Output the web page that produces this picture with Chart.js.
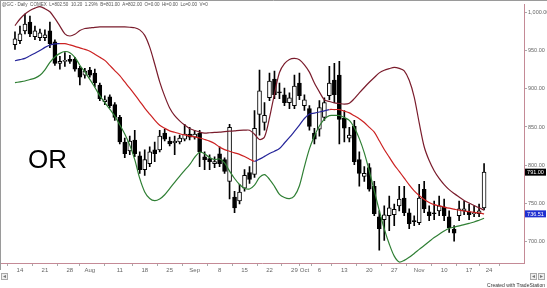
<!DOCTYPE html>
<html>
<head>
<meta charset="utf-8">
<script src="https://cdn.jsdelivr.net/npm/chart.js@4.4.1/dist/chart.umd.min.js"></script>
<style>
  html, body { margin: 0; padding: 0; background: #fff; }
</style>
</head>
<body>
<canvas id="goldChart" width="547" height="288"></canvas>
<script>
// Daily candles, one per trading day (index 0 = first bar on the left)
var opens = [957.6,962.7,975.6,987.2,967.9,966.6,966.6,975.6,961.4,933.2,
  935.8,938.3,938.3,926.8,917.8,924.2,920.3,904.9,883.1,889.5,
  879.2,862.5,830.4,818.8,833,812.4,794.4,802.1,820.1,820.1,
  842,831.7,829.1,830.4,834.2,840.7,836.8,842,811.1,808.6,
  802.1,815,807.3,779,758.4,753.3,770,790.5,788,866.4,
  856.1,888.2,912.6,895.9,892.1,881.8,877.9,907.5,877.9,874.1,
  842,847.1,862.5,890.8,911.3,917.8,861.2,835.5,850.9,807.3,
  785.4,797,772.6,732.7,728.9,734,735.3,746.9,757.1,737.9,
  727.6,725,768.7,739.1,737.9,740.4,745.6,732.7,716.6,734,
  740.4,739.1,736.6,736.6,744.3];
var highs = [974.3,982,997.4,994.9,982,978,976.9,987.2,964,942.2,
  947.3,943.5,940.9,929.3,926.8,928,925.5,907.5,890.8,892.1,
  881.8,865.1,835.5,838.1,845.8,817.5,820.1,824,830.4,845.8,
  847,836.8,838.1,839.4,853.5,849.7,845.8,845.8,817.5,813.7,
  811.1,824,809.8,853.5,766.1,775.1,794.4,798.3,871.5,924.2,
  881.8,920.3,922.9,907.5,901,894.6,917.8,920.3,892.1,877.9,
  848.4,884.4,888.2,929.3,933.2,935.8,871.5,849.7,858.7,817.5,
  798.3,802.1,779,740.4,746.9,759.7,749.4,772.6,772.6,743,
  734,775.1,779,746.9,753.3,759.7,755.9,740.4,721.2,753.3,
  753.3,749.4,746.9,749.4,802.1];
var lows = [951.2,958.9,971.7,967.9,964,962.7,962.7,953.7,930.6,925.5,
  929.3,933.2,922.9,904.9,913.9,915.2,902.3,884.4,879.2,875.4,
  858.7,827.8,809.8,813.7,811.1,789.3,786.7,798.3,804.7,817.5,
  831.7,825.3,813.7,827.8,831.7,833,834.2,798.3,794.4,794.4,
  797,798.3,789.3,755.9,737.9,749.4,766.1,776.4,784.1,839.4,
  845.8,884.4,886.9,886.9,877.9,874.1,874.1,885.6,871.5,845.8,
  827.8,838.1,858.7,885.6,881.8,827.8,830.4,830.4,800.8,772.6,
  779,766.1,734,689,701.9,714.7,721.2,740.4,734,717.3,
  721.2,722.4,737.9,727.6,728.9,734,727.6,712.2,700.7,727.6,
  735.3,728.9,732.7,732.7,741.7];
var closes = [965.3,971.7,984.6,971.7,975.6,973,970.4,958.9,933.2,935.8,
  937,935.8,925.5,915.2,922.9,917.8,907.5,886.9,885.6,877.9,
  862.5,830.4,815,831.7,815,794.4,807.3,817.5,815,838.1,
  834.2,827.8,831.7,835.5,840.7,836.8,840.7,817.5,807.3,804.7,
  804.7,802.1,791.8,849.7,744.3,764.8,786.7,781.5,848.4,897.2,
  865.1,910.1,892.1,894.6,881.8,888.2,903.6,890.8,885.6,850.9,
  834.2,875.4,881.8,907.5,892.1,860,848.4,839.4,804.7,789.3,
  789.3,768.7,736.6,717.3,735.3,744.3,742.4,755.9,737.9,723.7,
  726.3,757.1,743,734,736.6,746.9,734,718.6,711.3,743,
  743,735.3,737.9,740.4,791];

// Band lines
var upperBand = [982.5,991.1,997.7,1002.3,1005.3,1007.2,1004.6,1000.5,991.8,981.8,
  971.7,968.9,971.1,976,978.7,979.4,980.2,980.7,980.7,980.7,
  980.7,980.7,980.7,980.3,979.7,976.9,969.7,954.3,932.3,909,
  890.3,874.8,864.7,858,852.6,848,845.4,843.4,842.1,842.5,
  842.9,843.2,843.9,844.5,845,845.7,845.8,845.8,840.5,833.7,
  837,861.9,893.4,921.2,932.7,938.2,939.6,937.9,931.2,921.7,
  907.5,895.9,885.4,883.4,881.6,880.7,879.8,881,887,894.5,
  901.6,908.4,914.7,920.7,924.2,926.2,927.8,926.5,923.4,911,
  889.1,855.4,824.2,806.1,792.9,782.8,774.7,768.1,763,758.4,
  753.9,750.7,747.5,744.3,741.5];
var midLine = [936.5,938.1,939.6,943.1,946.4,950,954,957.1,958.7,958.9,
  958.9,957.2,955.4,953.4,951.4,949,945,941,937,930.4,
  923.7,917,908.8,900.7,892.3,883.6,874.8,866.8,859,852.2,
  848.3,845,843.1,841.2,839.6,838.3,837,835.6,833.7,831.5,
  828.4,823.7,820.4,818.3,816.2,814.3,811.4,807.9,805.2,808,
  811.6,815.4,818.4,821.9,829.1,836.3,844.3,852.5,861.1,866.9,
  868.2,869.6,871.1,872.8,872.8,872.7,870.7,868.4,864.6,860.7,
  855.8,849.5,843.4,832,820.6,810.6,800.6,792,783.2,774.4,
  766.6,760.5,755.3,751.4,748.6,747,745.4,743.9,742.6,741.3,
  740.2,739.4,738.5,737.7,736.51];
var lowerBand = [908,909,910.1,912,913.9,917.5,924.7,934.5,941.5,946.2,
  948.6,947.1,941.1,930.7,922,912.2,902,890.9,881.8,873.3,
  864.2,852.9,840.7,826.3,807.3,782.8,765.2,756.5,753.7,755.9,
  761.5,769.5,777.7,785.6,793.4,800.7,810.2,817,815.1,810.1,
  807.5,808.2,803,792.3,782.7,774.9,769.9,769,774,784.1,
  787.7,781.7,772.5,761.9,757.8,756.4,760,773.3,798.3,821.4,
  838.2,851.3,860.3,864.9,865.1,865,862.3,858.7,848.9,834.8,
  816.2,792.3,766.6,740.8,716.9,697.1,681.3,673.6,675.7,679.8,
  684.8,690.1,695.2,700.4,705.5,709.8,714.2,717.7,719.2,720.9,
  722.4,724,725.8,728.2,730.7];

// Axis labels
var tickPos = [1,6,11,15,21,26,31,36,41,46,51,56,58,61,66,71,76,81,86,91,95];
var tickText = ['14','21','28','Aug','11','18','25','Sep','8','15','22','29','Oct','6','13','20','27','Nov','10','17','24'];
var yTicks = [700, 750, 800, 850, 900, 950, 1000];

var titleText = '@GC - Daily  COMEX  L=802.50  10.20  1.29%  B=801.00  A=802.00  O=0.00  Hi=0.00  Lo=0.00  V=0';

var FONT = '"Liberation Sans", Arial, sans-serif';

function points(arr) {
  return arr.map(function(v, i) { return { x: i, y: v }; });
}

var wicks = highs.map(function(h, i) { return { x: i, y: [lows[i], h] }; });
var bodies = opens.map(function(o, i) { return { x: i, y: [o, closes[i]] }; });
var bodyColors = opens.map(function(o, i) { return closes[i] > o ? '#ffffff' : '#000000'; });

// texts and boxes drawn on top of the chart
var overlay = {
  id: 'overlay',
  afterDraw: function(chart) {
    var c = chart.ctx;
    var ys = chart.scales.y;
    c.save();

    // window frame
    c.strokeStyle = '#9a9a9a';
    c.lineWidth = 1;
    c.beginPath();
    c.moveTo(0, 0.5); c.lineTo(547, 0.5);
    c.moveTo(0.5, 0); c.lineTo(0.5, 270);
    c.stroke();

    // header line
    c.font = '10px ' + FONT;
    var w = c.measureText(titleText).width;
    c.font = (10 * 206 / w).toFixed(2) + 'px ' + FONT;
    c.fillStyle = '#555';
    c.textBaseline = 'middle';
    c.textAlign = 'left';
    c.fillText(titleText, 2, 5);

    // big label
    c.font = '26px ' + FONT;
    c.fillStyle = '#000';
    c.textBaseline = 'alphabetic';
    c.fillText('OR', 28, 168);

    // last value boxes
    c.font = '5.5px ' + FONT;
    c.textAlign = 'center';
    c.textBaseline = 'middle';
    var lastClose = closes[closes.length - 1];
    var py = ys.getPixelForValue(lastClose);
    c.fillStyle = '#000';
    c.fillRect(525, py - 3.5, 21, 7);
    c.fillStyle = '#fff';
    c.fillText(lastClose.toFixed(2), 535.5, py + 0.3);

    var lastMid = midLine[midLine.length - 1];
    py = ys.getPixelForValue(lastMid);
    c.fillStyle = '#1f2fd0';
    c.fillRect(525, py - 3.5, 21, 7);
    c.fillStyle = '#fff';
    c.fillText(lastMid.toFixed(2), 535.5, py + 0.3);

    // scroll buttons
    c.strokeStyle = '#aaa';
    c.fillStyle = '#eee';
    [[1, 273], [530, 273], [538, 273]].forEach(function(b) {
      c.fillRect(b[0], b[1], 7, 7);
      c.strokeRect(b[0] + 0.5, b[1] + 0.5, 6, 6);
    });
    c.fillStyle = '#777';
    c.font = '5px ' + FONT;
    c.fillText('\u25C4', 4.5, 276.5);
    c.fillText('\u25C4', 533.5, 276.5);
    c.fillText('\u25BA', 541.5, 276.5);

    c.font = '5px ' + FONT;
    c.fillStyle = '#333';
    c.textAlign = 'right';
    c.textBaseline = 'alphabetic';
    c.fillText('Created with TradeStation', 545, 287);
    c.restore();
  }
};

var ctx = document.getElementById('goldChart').getContext('2d');
new Chart(ctx, {
  type: 'bar',
  data: {
    datasets: [
      {
        type: 'line', label: 'Upper', data: points(upperBand), order: 1,
        borderColor: '#7a1c2c', borderWidth: 1.2, pointRadius: 0, tension: 0.3
      },
      {
        type: 'line', label: 'Lower', data: points(lowerBand), order: 1,
        borderColor: '#2f7f34', borderWidth: 1.2, pointRadius: 0, tension: 0.3
      },
      {
        type: 'line', label: 'Average', data: points(midLine), order: 1,
        borderColor: '#cc2222', borderWidth: 1.2, pointRadius: 0, tension: 0.3,
        segment: {
          borderColor: function(s) { return s.p1.parsed.y > s.p0.parsed.y ? '#26269a' : '#cc2222'; }
        }
      },
      {
        label: 'Bodies', data: bodies, order: 2, grouped: false,
        backgroundColor: bodyColors, borderColor: '#000', borderWidth: 1,
        borderSkipped: false, barThickness: 4, minBarLength: 1
      },
      {
        label: 'Wicks', data: wicks, order: 3, grouped: false,
        backgroundColor: '#000', borderWidth: 0, barThickness: 1
      }
    ]
  },
  options: {
    responsive: false,
    animation: false,
    layout: { padding: 0 },
    plugins: {
      legend: { display: false },
      tooltip: { enabled: false }
    },
    scales: {
      x: {
        type: 'linear',
        min: -0.5,
        max: 99.5,
        afterBuildTicks: function(s) { s.ticks = tickPos.map(function(v) { return { value: v }; }); },
        afterFit: function(s) { s.height = 25; },
        ticks: {
          autoSkip: false, maxRotation: 0, padding: 1, color: '#666',
          font: { size: 6, family: FONT },
          callback: function(v) { var k = tickPos.indexOf(v); return k < 0 ? '' : tickText[k]; }
        },
        grid: { drawOnChartArea: false, tickLength: 3, color: '#aaa' },
        border: { color: '#c48a96' }
      },
      y: {
        position: 'right',
        min: 672.3,
        max: 1010.3,
        afterBuildTicks: function(s) { s.ticks = yTicks.map(function(v) { return { value: v }; }); },
        afterFit: function(s) { s.width = 23; },
        ticks: {
          padding: 1, color: '#666',
          font: { size: 5.5, family: FONT },
          callback: function(v) {
            return v.toLocaleString('en-US', { minimumFractionDigits: 2, maximumFractionDigits: 2 });
          }
        },
        grid: { drawOnChartArea: false, tickLength: 3, color: '#aaa' },
        border: { color: '#c48a96' }
      }
    }
  },
  plugins: [overlay]
});
</script>
</body>
</html>
